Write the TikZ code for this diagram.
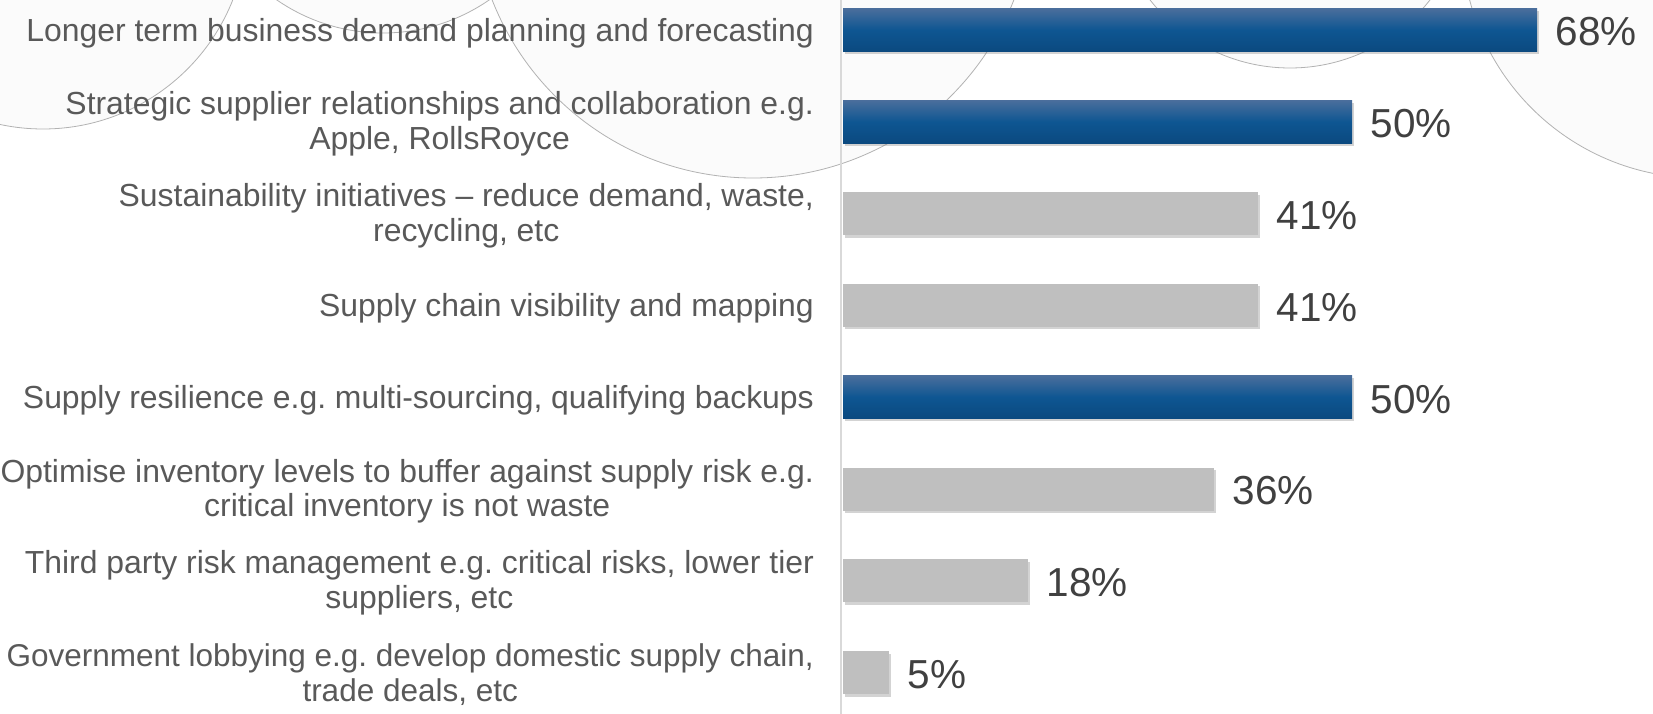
\documentclass[tikz,border=0pt]{standalone}
\usepackage{fontspec}
\setmainfont{Liberation Sans}
\usepackage{tikz}
\usetikzlibrary{shadows}
\definecolor{bartop}{RGB}{74,110,156}
\definecolor{barmid}{RGB}{14,86,146}
\definecolor{barbot}{RGB}{11,73,127}
\definecolor{bargrey}{RGB}{191,191,191}
\definecolor{labelgrey}{RGB}{89,89,89}
\definecolor{valuegrey}{RGB}{64,64,64}
\tikzstyle{bluebar} = [anchor=west, inner sep=0pt, minimum height=43pt, top color=bartop, bottom color=barbot, middle color=barmid, drop shadow={shadow xshift=2pt, shadow yshift=-2.5pt, opacity=0.35}]
\tikzstyle{greybar} = [anchor=west, inner sep=0pt, minimum height=43pt, fill=bargrey, drop shadow={shadow xshift=2pt, shadow yshift=-2.5pt, opacity=0.35}]
\tikzstyle{barlabel} = [anchor=east, align=center, inner sep=0pt, text=labelgrey, font=\fontsize{31.9}{34.5}\selectfont]
\tikzstyle{barvalue} = [anchor=west, inner sep=0pt, text=valuegrey, font=\fontsize{40.5}{48}\selectfont]
\tikzstyle{axisline} = [draw, line width=2.5pt, color=black!15]
\tikzstyle{globe} = [draw=black!30, line width=0.8pt, fill=black!1.5]
\newcommand{\bardata}[3]{node (b#1) [#2, minimum width=#3pt] {}}
\newcommand{\labeldata}[2]{node (l#1) [barlabel] {#2}}
\newcommand{\valuedata}[2]{node (v#1) [barvalue] {#2}}

\begin{document}
\begin{tikzpicture}[x=1pt,y=-1pt]
\useasboundingbox (0,0) rectangle (1653,714);
\clip (0,0) rectangle (1653,714);
% faint globes behind the chart
\path [globe] (43,-75) circle (204pt);
\path [globe] (383,-154) circle (187pt);
\path [globe] (753,-102) circle (280pt);
\path [globe] (1290,-110) circle (178pt);
\path [globe] (1700,-60) circle (238pt);

\coordinate (a1) at (841,0);
\coordinate (a2) at (841,714);
\path [axisline] (a1) -- (a2);

\path (843,30) \bardata{1}{bluebar}{694};
\path (b1.east)+(18,2) \valuedata{1}{68\%};
\path (b1.west)+(-29,3) \labeldata{1}{Longer term business demand planning and forecasting};

\path (b1.west)+(0,91.8) \bardata{2}{bluebar}{509};
\path (b2.east)+(18,2) \valuedata{2}{50\%};
\path (b2.west)+(-29,2) \labeldata{2}{Strategic supplier relationships and collaboration e.g.\\Apple, RollsRoyce};

\path (b2.west)+(0,91.8) \bardata{3}{greybar}{415};
\path (b3.east)+(18,2) \valuedata{3}{41\%};
\path (b3.west)+(-29,2) \labeldata{3}{Sustainability initiatives -- reduce demand, waste,\\recycling, etc};

\path (b3.west)+(0,91.8) \bardata{4}{greybar}{415};
\path (b4.east)+(18,2) \valuedata{4}{41\%};
\path (b4.west)+(-29,3) \labeldata{4}{Supply chain visibility and mapping};

\path (b4.west)+(0,91.8) \bardata{5}{bluebar}{509};
\path (b5.east)+(18,2) \valuedata{5}{50\%};
\path (b5.west)+(-29,3) \labeldata{5}{Supply resilience e.g.\ multi-sourcing, qualifying backups};

\path (b5.west)+(0,91.8) \bardata{6}{greybar}{371};
\path (b6.east)+(18,2) \valuedata{6}{36\%};
\path (b6.west)+(-29,2) \labeldata{6}{Optimise inventory levels to buffer against supply risk e.g.\\critical inventory is not waste};

\path (b6.west)+(0,91.8) \bardata{7}{greybar}{185};
\path (b7.east)+(18,2) \valuedata{7}{18\%};
\path (b7.west)+(-29,2) \labeldata{7}{Third party risk management e.g.\ critical risks, lower tier\\suppliers, etc};

\path (b7.west)+(0,91.8) \bardata{8}{greybar}{46};
\path (b8.east)+(18,2) \valuedata{8}{5\%};
\path (b8.west)+(-29,2) node (l8) [barlabel, font=\fontsize{31.5}{34.5}\selectfont] {Government lobbying e.g.\ develop domestic supply chain,\\trade deals, etc};
\end{tikzpicture}
\end{document}
